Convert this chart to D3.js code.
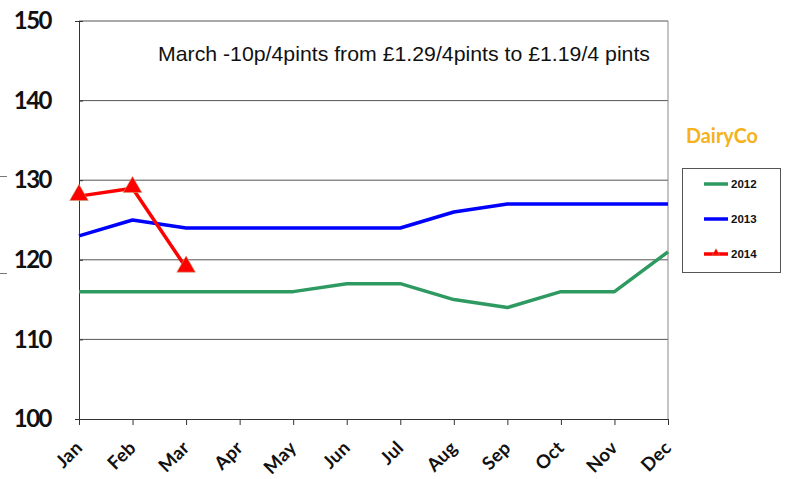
<!DOCTYPE html>
<html><head><meta charset="utf-8">
<script src="https://cdn.jsdelivr.net/npm/d3@7"></script>
<style>body{margin:0;background:#fff}svg{display:block}</style>
</head><body>
<svg id="c" width="787" height="479"></svg>
<script>
const months = ["Jan","Feb","Mar","Apr","May","Jun","Jul","Aug","Sep","Oct","Nov","Dec"];
const yTicks = [100,110,120,130,140,150];
const s2012 = [116,116,116,116,116,117,117,115,114,116,116,121];
const s2013 = [123,125,124,124,124,124,124,126,127,127,127,127];
const s2014 = [128,129,119];
const seriesNames = ["2012","2013","2014"];
const seriesColors = ["#2e9a62","#0000ff","#ff0000"];
const annotation = "March -10p/4pints from £1.29/4pints to £1.19/4 pints";

const svg = d3.select("#c");
const L=79, R=668, T=21, B=419;
const x = d3.scalePoint().domain(months).range([L,R]);
const y = d3.scaleLinear().domain([100,150]).range([B,T]);

// gridlines
svg.append("g").selectAll("line").data(yTicks.filter(v=>v>100)).join("line")
  .attr("x1",L).attr("x2",R).attr("y1",d=>y(d)).attr("y2",d=>y(d))
  .attr("stroke","#555").attr("stroke-width",1);
// right border
svg.append("line").attr("x1",R).attr("x2",R).attr("y1",T).attr("y2",B).attr("stroke","#888").attr("stroke-width",1);

// y axis
const ya = svg.append("g").attr("transform",`translate(${L},0)`)
  .call(d3.axisLeft(y).tickValues(yTicks).tickSize(4).tickPadding(24));
ya.select(".domain").attr("stroke","#333");
ya.selectAll(".tick line").attr("stroke","#333").attr("x2",4).attr("x1",0);
ya.selectAll("text").attr("font-family","Lato, 'DejaVu Sans', sans-serif").attr("font-weight","bold")
  .attr("font-size","24px").attr("letter-spacing","-1.5").attr("fill","#111");

// x axis
const xa = svg.append("g").attr("transform",`translate(0,${B})`)
  .call(d3.axisBottom(x).tickSize(6).tickPadding(4));
xa.select(".domain").attr("stroke","#333");
xa.selectAll(".tick line").attr("stroke","#333");
xa.selectAll("text").attr("font-family","Lato, 'DejaVu Sans', sans-serif").attr("font-weight","bold")
  .attr("font-size","18.5px").attr("letter-spacing","0.3").attr("fill","#111")
  .attr("text-anchor","end").attr("y",0).attr("dy",0)
  .attr("transform","translate(4,30) rotate(-45)");

// stray marks at left edge
svg.append("line").attr("x1",0).attr("x2",7).attr("y1",176.5).attr("y2",176.5).attr("stroke","#777");
svg.append("line").attr("x1",0).attr("x2",7).attr("y1",273.5).attr("y2",273.5).attr("stroke","#777");

const line = d3.line().x((d,i)=>x(months[i])).y(d=>y(d));
[s2012,s2013,s2014].forEach((s,k)=>{
  svg.append("path").datum(s).attr("d",line).attr("fill","none")
    .attr("stroke",seriesColors[k]).attr("stroke-width",3.5).attr("stroke-linejoin","round");
});
const tri = d3.symbol().type(d3.symbolTriangle).size(150);
svg.append("g").selectAll("path").data(s2014).join("path")
  .attr("d",tri).attr("transform",(d,i)=>`translate(${x(months[i])},${y(d)-1})`)
  .attr("fill","#ff0000").attr("stroke","#c8a070").attr("stroke-width",0.6);

// annotation
svg.append("text").attr("x",158).attr("y",61).text(annotation)
  .attr("textLength",492).attr("lengthAdjust","spacingAndGlyphs")
  .attr("font-family","Arial, 'Liberation Sans', sans-serif").attr("font-size","21px").attr("fill","#111");

// logo
svg.append("text").attr("x",686).attr("y",143).text("DairyCo")
  .attr("textLength",72).attr("lengthAdjust","spacingAndGlyphs")
  .attr("font-family","Lato, sans-serif").attr("font-weight","bold").attr("font-size","20px")
  .attr("fill","#f5b21c");

// legend
svg.append("rect").attr("x",682.5).attr("y",168.5).attr("width",98).attr("height",104)
  .attr("fill","#fff").attr("stroke","#555");
const lg = svg.append("g").selectAll("g").data(seriesNames).join("g")
  .attr("transform",(d,i)=>`translate(0,${184+i*35})`);
lg.append("line").attr("x1",704).attr("x2",728).attr("y1",0).attr("y2",0)
  .attr("stroke",(d,i)=>seriesColors[i]).attr("stroke-width",3.5);
lg.filter((d,i)=>i===2).append("path").attr("d",d3.symbol().type(d3.symbolTriangle).size(25))
  .attr("transform","translate(716,-1)").attr("fill","#ff0000").attr("stroke","#c8a070").attr("stroke-width",0.4);
lg.append("text").attr("x",731).attr("y",4).text(d=>d)
  .attr("font-family","Arial, 'Liberation Sans', sans-serif").attr("font-weight","bold").attr("font-size","11.5px").attr("fill","#111");
</script>
</body></html>
